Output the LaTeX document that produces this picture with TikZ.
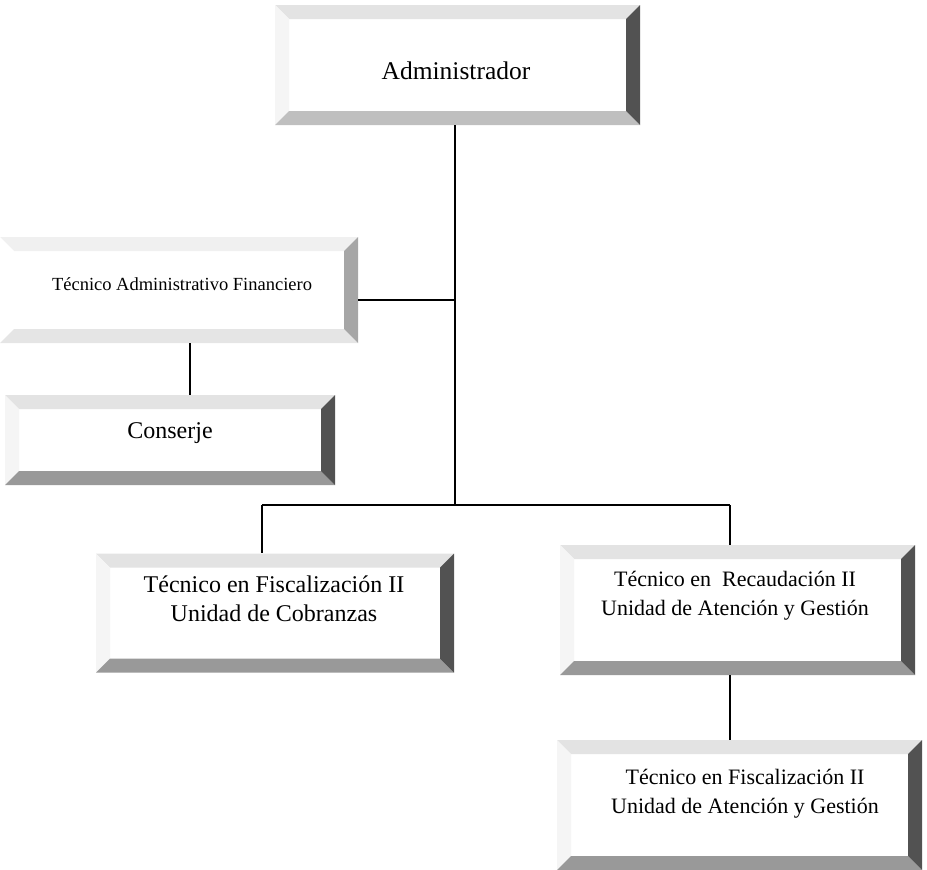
\documentclass[tikz,border=0pt]{standalone}
\usepackage{fontspec}
\setmainfont{Liberation Serif}
\tikzset{
  bevtop/.store in=\bevtop, bevleft/.store in=\bevleft,
  bevright/.store in=\bevright, bevbot/.store in=\bevbot,
  bevw/.store in=\bevw,
  bevtop=black!11, bevleft=black!4, bevright=black!68, bevbot=black!40, bevw=14pt,
  bevel/.style={rectangle, inner sep=0pt, fill=white,
    path picture={
      \coordinate (NW) at (path picture bounding box.north west);
      \coordinate (NE) at (path picture bounding box.north east);
      \coordinate (SW) at (path picture bounding box.south west);
      \coordinate (SE) at (path picture bounding box.south east);
      \fill[\bevtop] (NW) -- (NE) -- ([xshift=-\bevw,yshift=-\bevw]NE) -- ([xshift=\bevw,yshift=-\bevw]NW) -- cycle;
      \fill[\bevleft] (NW) -- (SW) -- ([xshift=\bevw,yshift=\bevw]SW) -- ([xshift=\bevw,yshift=-\bevw]NW) -- cycle;
      \fill[\bevbot] (SW) -- (SE) -- ([xshift=-\bevw,yshift=\bevw]SE) -- ([xshift=\bevw,yshift=\bevw]SW) -- cycle;
      \fill[\bevright] (NE) -- (SE) -- ([xshift=-\bevw,yshift=\bevw]SE) -- ([xshift=-\bevw,yshift=-\bevw]NE) -- cycle;
    }},
  faded/.style={bevtop=black!6, bevleft=white, bevright=black!35, bevbot=black!10},
  lightbot/.style={bevbot=black!25},
  lbl/.style={align=center, inner sep=0pt},
  big/.style={font=\fontsize{24}{29}\selectfont},
  mid/.style={font=\fontsize{22}{29}\selectfont},
  small/.style={font=\fontsize{18.5}{22}\selectfont},
  conn/.style={line width=1.2pt, black}
}
\begin{document}
\begin{tikzpicture}[x=1pt,y=-1pt]
\useasboundingbox (0,0) rectangle (927,870);
% boxes
\node[bevel, lightbot, minimum width=365pt, minimum height=120pt] (admin) at (457.5,65) {};
\node[bevel, faded, minimum width=358pt, minimum height=106pt] (taf) at (179,290) {};
\node[bevel, minimum width=330pt, minimum height=90pt] (cons) at (170,440) {};
\node[bevel, minimum width=358pt, minimum height=119pt] (fisc) at (275,613) {};
\node[bevel, minimum width=355pt, minimum height=130pt] (recaud) at (737.5,610) {};
\node[bevel, minimum width=365pt, minimum height=130pt] (fisc2) at (739.5,805) {};
% labels
\node[lbl, font=\fontsize{25.5}{30}\selectfont] (admint) at (456,71) {Administrador};
\node[lbl, small] (taft) at (182,284) {Técnico Administrativo Financiero};
\node[lbl, big] (const) at (170,433) {Conserje};
\node[lbl, big] (fisct) at (274,599) {Técnico en Fiscalización II\\Unidad de Cobranzas};
\node[lbl, mid] (recaudt) at (735,596) {Técnico en~~Recaudación II\\Unidad de Atención y Gestión};
\node[lbl, mid] (fisc2t) at (745,794) {Técnico en Fiscalización II\\Unidad de Atención y Gestión};
% connectors
\coordinate (j1) at (455,300);
\coordinate (j2) at (455,505);
\coordinate (jl) at (262,505);
\coordinate (jr) at (730,505);
\coordinate (tafb) at (190,343);
\draw[conn] (admin.south -| j1) -- (j2);
\draw[conn] (taf.east |- j1) -- (j1);
\draw[conn] (tafb) -- (cons.north -| tafb);
\draw[conn] (jl) -- (jr);
\draw[conn] (jl) -- (fisc.north -| jl);
\draw[conn] (jr) -- (recaud.north -| jr);
\draw[conn] (recaud.south -| jr) -- (fisc2.north -| jr);
\end{tikzpicture}
\end{document}
